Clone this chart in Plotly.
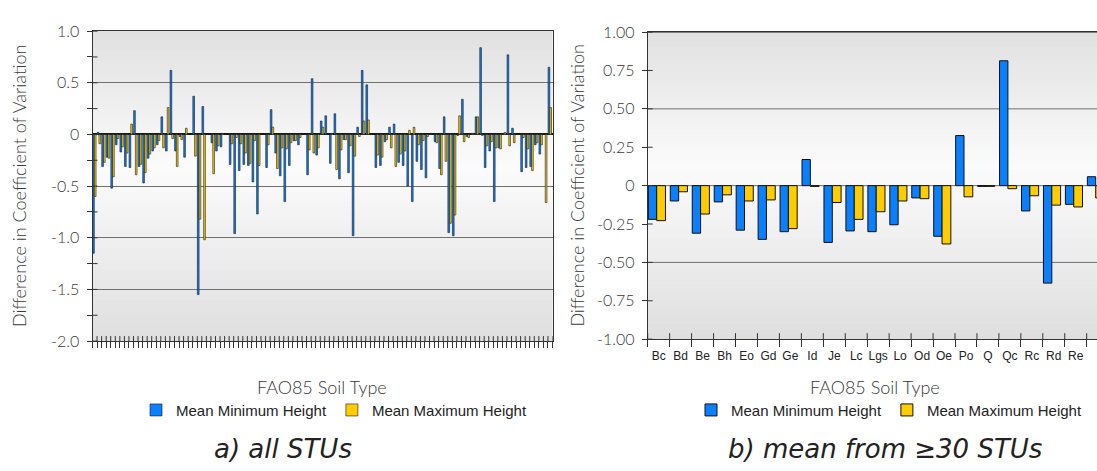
import plotly.graph_objects as go

# ---------------- data ----------------
# a) all STUs (101 soil typological units, unlabeled)
stu_ids = [str(i + 1) for i in range(101)]
a_min = [-1.15, 0.02, -0.31, -0.22, -0.52, -0.10, -0.17, -0.31, -0.32, 0.23,
         -0.31, -0.47, -0.23, -0.16, -0.10, 0.17, -0.16, 0.62, -0.16, -0.02,
         -0.22, 0.0, 0.37, -1.55, 0.27, 0.0, -0.08, -0.16, -0.12, 0.0,
         -0.29, -0.96, -0.35, -0.29, -0.30, -0.46, -0.77, 0.0, -0.32, 0.24,
         -0.18, -0.40, -0.65, -0.30, -0.06, -0.10, 0.0, -0.39, 0.54, -0.20,
         0.13, 0.18, -0.28, 0.20, -0.43, -0.05, -0.37, -0.98, 0.07, 0.62,
         0.48, 0.0, -0.32, -0.30, -0.07, 0.07, 0.10, -0.27, -0.30, -0.50,
         -0.65, -0.26, -0.34, -0.42, 0.01, -0.07, -0.33, 0.17, -0.95, -0.98,
         -0.01, 0.34, -0.02, 0.01, 0.17, 0.84, -0.32, -0.16, -0.65, -0.13,
         0.01, 0.77, 0.06, 0.0, -0.36, -0.32, -0.31, -0.10, -0.19, 0.0,
         0.65]
a_max = [-0.60, -0.09, -0.27, -0.23, -0.41, -0.04, -0.12, -0.18, 0.10, -0.39,
         -0.29, -0.37, -0.19, -0.13, -0.06, -0.13, 0.26, -0.04, -0.31, -0.05,
         0.06, 0.0, -0.21, -0.82, -1.02, 0.0, -0.38, -0.11, 0.01, 0.0,
         -0.09, -0.03, -0.09, -0.18, -0.28, -0.06, -0.30, 0.0, -0.10, 0.07,
         -0.33, -0.13, -0.14, -0.08, -0.06, -0.03, 0.0, -0.15, -0.18, -0.13,
         0.07, 0.0, 0.01, -0.34, -0.15, -0.05, -0.11, -0.21, -0.02, 0.13,
         0.14, 0.0, -0.20, -0.22, -0.05, -0.13, -0.31, -0.19, -0.16, 0.04,
         0.07, -0.10, -0.06, -0.02, 0.0, -0.08, -0.39, -0.26, -0.86, -0.78,
         0.18, -0.07, -0.03, 0.01, 0.17, -0.01, -0.11, -0.07, -0.13, -0.14,
         0.02, -0.11, -0.08, 0.0, -0.03, -0.14, -0.35, -0.08, -0.10, -0.66,
         0.26]

# b) mean from >=30 STUs
soil_types = ["Bc", "Bd", "Be", "Bh", "Eo", "Gd", "Ge", "Id", "Je", "Lc", "Lgs",
              "Lo", "Od", "Oe", "Po", "Q", "Qc", "Rc", "Rd", "Re", "U"]
b_min = [-0.22, -0.10, -0.31, -0.106, -0.29, -0.35, -0.30, 0.17, -0.37, -0.295, -0.30,
         -0.255, -0.08, -0.33, 0.326, -0.005, 0.813, -0.165, -0.635, -0.122, 0.058]
b_max = [-0.228, -0.04, -0.185, -0.06, -0.10, -0.093, -0.28, -0.005, -0.11, -0.22, -0.17,
         -0.10, -0.085, -0.38, -0.073, -0.005, -0.02, -0.066, -0.127, -0.139, -0.08]

series_names = ["Mean Minimum Height", "Mean Maximum Height"]

left_ytick_vals = [1.0, 0.5, 0.0, -0.5, -1.0, -1.5, -2.0]
left_ytick_text = ["1.0", "0.5", "0", "-0.5", "-1.0", "-1.5", "-2.0"]
left_yminor_vals = [0.75, 0.25, -0.25, -0.75, -1.25, -1.75]
right_ytick_vals = [1.0, 0.75, 0.5, 0.25, 0.0, -0.25, -0.5, -0.75, -1.0]
right_ytick_text = ["1.00", "0.75", "0.50", "0.25", "0", "-0.25", "-0.50", "-0.75", "-1.00"]
right_grid_vals = [1.0, 0.5, 0.0, -0.5]

x_title = "FAO85 Soil Type"
y_title = "Difference in Coefficient of Variation"
captions = ["a) all STUs", "b) mean from ≥30 STUs"]

# ---------------- style ----------------
W, H = 1097, 471
BLUE = "#0A80FF"
YELLOW = "#FFCC00"
TXT = "#383838"
AXC = "#333333"
GRID = "#707070"
GFONT = "Lato"

L_X0, L_X1, L_Y0, L_Y1 = 92.5, 552.5, 22.0, 345.0
R_X0, R_X1, R_Y0, R_Y1 = 647.7, 1097.0, 23.0, 343.0


def px_dom(a, b, total):
    return [a / total, b / total]


def py_dom(top, bottom):
    return [1 - bottom / H, 1 - top / H]


fig = go.Figure()

fig.add_trace(go.Bar(x=stu_ids, y=a_min, name=series_names[0], xaxis="x", yaxis="y",
                     marker=dict(color=BLUE, line=dict(color="#1a1a1a", width=0.6)),
                     offset=-0.47, width=0.37, legend="legend"))
fig.add_trace(go.Bar(x=stu_ids, y=a_max, name=series_names[1], xaxis="x", yaxis="y",
                     marker=dict(color=YELLOW, line=dict(color="#1a1a1a", width=0.6)),
                     offset=-0.09, width=0.37, legend="legend"))
fig.add_trace(go.Bar(x=soil_types, y=b_min, name=series_names[0], xaxis="x2", yaxis="y2",
                     marker=dict(color=BLUE, line=dict(color="#111111", width=1)),
                     offset=-0.47, width=0.38, legend="legend2"))
fig.add_trace(go.Bar(x=soil_types, y=b_max, name=series_names[1], xaxis="x2", yaxis="y2",
                     marker=dict(color=YELLOW, line=dict(color="#111111", width=1)),
                     offset=-0.09, width=0.40, legend="legend2"))

# ---------------- background gradient + helper lines ----------------
shapes = []
NB = 60


def grad_color(f):
    peak = 0.56
    if f >= peak:
        lv = 0.985 - 0.24 * (f - peak)
    else:
        lv = 0.985 - 0.20 * (peak - f)
    c = int(round(lv * 255))
    return f"rgb({c},{c},{c})"


for xr, yr in (("x", "y"), ("x2", "y2")):
    for k in range(NB):
        f = (k + 0.5) / NB
        shapes.append(dict(type="rect", xref=f"{xr} domain", yref=f"{yr} domain",
                           x0=0, x1=1, y0=k / NB, y1=(k + 1) / NB + 0.002,
                           fillcolor=grad_color(f), line=dict(width=0), layer="below"))

# right panel gridlines every 0.5
for v in right_grid_vals:
    shapes.append(dict(type="line", xref="x2 domain", yref="y2", x0=0, x1=1, y0=v, y1=v,
                       line=dict(color=GRID if v != 1.0 else AXC, width=1), layer="below"))

# inner halves of crossing tick marks
for b in range(len(stu_ids) + 1):
    shapes.append(dict(type="line", xref="x", yref="y domain", x0=b - 0.5, x1=b - 0.5,
                       ysizemode="pixel", yanchor=0, y0=0, y1=5,
                       line=dict(color=AXC, width=1), layer="above"))
for b in range(len(soil_types) + 1):
    shapes.append(dict(type="line", xref="x2", yref="y2 domain", x0=b - 0.5, x1=b - 0.5,
                       ysizemode="pixel", yanchor=0, y0=0, y1=6,
                       line=dict(color=AXC, width=1), layer="above"))
for v in left_ytick_vals + left_yminor_vals:
    shapes.append(dict(type="line", xref="x domain", yref="y", x0=0, x1=5, y0=v, y1=v,
                       xsizemode="pixel", xanchor=0,
                       line=dict(color=AXC, width=1), layer="above"))
for v in right_ytick_vals:
    shapes.append(dict(type="line", xref="x2 domain", yref="y2", x0=0, x1=5, y0=v, y1=v,
                       xsizemode="pixel", xanchor=0,
                       line=dict(color=AXC, width=1), layer="above"))

# ---------------- text ----------------
tfont = dict(family=GFONT, size=18, color=TXT, weight=300)
ann = []
ann.append(dict(text=y_title, x=19 / W, y=1 - ((L_Y0 + L_Y1) / 2) / H, xref="paper", yref="paper",
                textangle=-90, showarrow=False, xanchor="center", yanchor="middle", font=tfont))
ann.append(dict(text=y_title, x=577 / W, y=1 - ((R_Y0 + R_Y1) / 2) / H, xref="paper", yref="paper",
                textangle=-90, showarrow=False, xanchor="center", yanchor="middle", font=tfont))
ann.append(dict(text=x_title, x=322 / W, y=1 - 393 / H, xref="paper", yref="paper",
                showarrow=False, xanchor="center", yanchor="middle", font=tfont))
ann.append(dict(text=x_title, x=875 / W, y=1 - 393 / H, xref="paper", yref="paper",
                showarrow=False, xanchor="center", yanchor="middle", font=tfont))
ann.append(dict(text=f"<i>{captions[0]}</i>", x=283 / W, y=1 - 457 / H, xref="paper", yref="paper",
                showarrow=False, xanchor="center", yanchor="middle",
                font=dict(family="DejaVu Sans", size=26, color="#222222")))
ann.append(dict(text=f"<i>{captions[1]}</i>", x=885 / W, y=1 - 457 / H, xref="paper", yref="paper",
                showarrow=False, xanchor="center", yanchor="middle",
                font=dict(family="DejaVu Sans", size=26, color="#222222")))

legend_style = dict(orientation="h", xanchor="center", yanchor="middle",
                    bgcolor="rgba(0,0,0,0)", font=dict(family="Liberation Sans", size=15, color="#222222"),
                    itemclick=False, tracegroupgap=0)

tickfont = dict(family=GFONT, size=16, color=TXT, weight=300)

fig.update_layout(
    width=W, height=H,
    margin=dict(l=0, r=0, t=0, b=0),
    paper_bgcolor="white", plot_bgcolor="white",
    barmode="overlay",
    showlegend=True,
    legend=dict(x=334 / W, y=1 - 417 / H, **legend_style),
    legend2=dict(x=889 / W, y=1 - 417 / H, **legend_style),
    shapes=shapes,
    annotations=ann,
    xaxis=dict(domain=px_dom(L_X0, L_X1, W), anchor="y", type="category",
               range=[-0.5, len(stu_ids) - 0.5], showticklabels=False,
               tickmode="linear", tick0=0, dtick=1, tickson="boundaries",
               ticks="outside", ticklen=6, tickcolor=AXC, showgrid=False,
               showline=True, linecolor=AXC, linewidth=1, mirror=True, zeroline=False),
    yaxis=dict(domain=py_dom(L_Y0, L_Y1), anchor="x", range=[-2.0, 1.0],
               tickmode="array", tickvals=left_ytick_vals, ticktext=left_ytick_text,
               ticks="outside", ticklen=5, tickcolor=AXC, ticklabelstandoff=4,
               tickfont=tickfont,
               minor=dict(tickmode="array", tickvals=left_yminor_vals, ticks="outside",
                          ticklen=5, tickcolor=AXC, showgrid=False),
               showgrid=True, gridcolor=GRID, gridwidth=1,
               zeroline=True, zerolinecolor="#1a1a1a", zerolinewidth=1.5,
               showline=True, linecolor=AXC, linewidth=1, mirror=True),
    xaxis2=dict(domain=px_dom(R_X0, R_X1, W), anchor="y2", type="category",
                range=[-0.5, -0.5 + (R_X1 - R_X0) / 21.95],
                tickmode="array", tickvals=soil_types, tickson="boundaries",
                ticks="outside", ticklen=7, tickcolor=AXC, tickangle=0,
                ticklabelstandoff=5,
                tickfont=dict(family="Liberation Sans", size=12, color="#222222"),
                showgrid=False, showline=True, linecolor=AXC, linewidth=1, mirror=True,
                zeroline=False),
    yaxis2=dict(domain=py_dom(R_Y0, R_Y1), anchor="x2", range=[-1.0, 1.0],
                tickmode="array", tickvals=right_ytick_vals, ticktext=right_ytick_text,
                ticks="outside", ticklen=5, tickcolor=AXC, ticklabelstandoff=4,
                tickfont=tickfont,
                showgrid=False, zeroline=False,
                showline=True, linecolor=AXC, linewidth=1, mirror=False),
)

fig.write_html("out.html")
